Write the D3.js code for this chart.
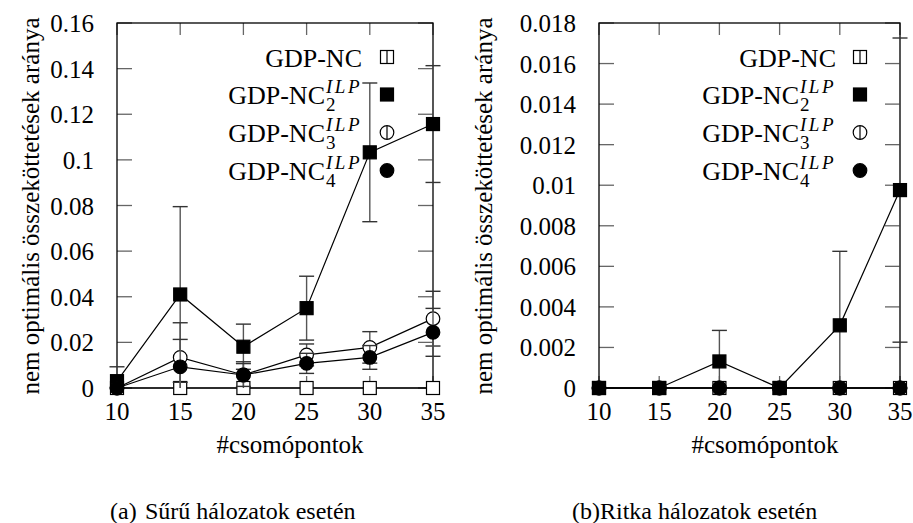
<!DOCTYPE html>
<html>
<head>
<meta charset="utf-8">
<script src="https://cdn.jsdelivr.net/npm/d3@7"></script>
<style>
  html, body { margin: 0; padding: 0; background: #fff; }
  svg { display: block; }
  text { font-family: "Liberation Serif", "Times New Roman", Times, "DejaVu Serif", serif; }
</style>
</head>
<body>
<svg id="chart" width="913" height="523" font-family="Liberation Serif, Times New Roman, serif"></svg>
<script>
// ---------- DATA ----------
const nodes = [10, 15, 20, 25, 30, 35];
const xTickLabels = ["10", "15", "20", "25", "30", "35"];

// (a) dense networks
const denseNC      = [0, 0, 0, 0, 0, 0];
const denseNCErr   = [0, 0, 0, 0, 0, 0];
const denseNC2     = [0.003, 0.041, 0.0181, 0.035, 0.1033, 0.1157];
const denseNC2Err  = [0.0063, 0.0385, 0.0099, 0.014, 0.0304, 0.0256];
const denseNC3     = [0, 0.0134, 0.0057, 0.0145, 0.0178, 0.0304];
const denseNC3Err  = [0, 0.0152, 0.0058, 0.0048, 0.0069, 0.012];
const denseNC4     = [0, 0.0093, 0.0057, 0.0108, 0.0134, 0.0244];
const denseNC4Err  = [0, 0.012, 0.005, 0.0044, 0.0052, 0.0105];
const denseYTicks  = [0, 0.02, 0.04, 0.06, 0.08, 0.1, 0.12, 0.14, 0.16];
const denseYLabels = ["0", "0.02", "0.04", "0.06", "0.08", "0.1", "0.12", "0.14", "0.16"];

// (b) sparse networks
const sparseNC      = [0, 0, 0, 0, 0, 0];
const sparseNCErr   = [0, 0, 0, 0, 0, 0];
const sparseNC2     = [0, 0, 0.00131, 0, 0.00309, 0.00976];
const sparseNC2Err  = [0, 0, 0.00153, 0, 0.00365, 0.0075];
const sparseNC3     = [0, 0, 0, 0, 0, 0];
const sparseNC3Err  = [0, 0, 0, 0, 0, 0];
const sparseNC4     = [0, 0, 0, 0, 0, 0];
const sparseNC4Err  = [0, 0, 0, 0, 0, 0];
const sparseYTicks  = [0, 0.002, 0.004, 0.006, 0.008, 0.01, 0.012, 0.014, 0.016, 0.018];
const sparseYLabels = ["0", "0.002", "0.004", "0.006", "0.008", "0.01", "0.012", "0.014", "0.016", "0.018"];

const seriesNames = [
  {main: "GDP-NC", sub: null, sup: null, shape: "openSquare"},
  {main: "GDP-NC", sub: "2", sup: "ILP", shape: "filledSquare"},
  {main: "GDP-NC", sub: "3", sup: "ILP", shape: "openCircle"},
  {main: "GDP-NC", sub: "4", sup: "ILP", shape: "filledCircle"}
];

const yTitle = "nem optimális összeköttetések aránya";
const xTitle = "#csomópontok";
const captions = [["(a)", "Sűrű hálozatok esetén"], ["(b)", "Ritka hálozatok esetén"]];

// ---------- DRAW ----------
const FONT = "Liberation Serif, Times New Roman, serif";
const svg = d3.select("#chart");

function measure(str, size, italic, spacing) {
  const t = svg.append("text").attr("font-family", FONT).attr("font-size", size)
    .attr("font-style", italic ? "italic" : "normal").attr("letter-spacing", spacing || 0).text(str);
  const w = t.node().getComputedTextLength();
  t.remove();
  return w;
}

function drawSymbol(g, shape, cx, cy) {
  const s = 13, r = 6.8;
  if (shape === "openSquare" || shape === "filledSquare") {
    g.append("rect").attr("x", cx - s/2).attr("y", cy - s/2).attr("width", s).attr("height", s)
      .attr("fill", shape === "filledSquare" ? "#000" : "#fff").attr("stroke", "#000").attr("stroke-width", 1.2);
  } else {
    g.append("circle").attr("cx", cx).attr("cy", cy).attr("r", r)
      .attr("fill", shape === "filledCircle" ? "#000" : "#fff").attr("stroke", "#000").attr("stroke-width", 1.2);
  }
}

function txt(g, x, y, size, str, anchor) {
  return g.append("text").attr("x", x).attr("y", y).attr("font-family", FONT).attr("font-size", size)
    .attr("text-anchor", anchor || "start").text(str);
}

function panel(cfg) {
  const g = svg.append("g");
  const x = d3.scaleLinear().domain([10, 35]).range([cfg.x0, cfg.x1]);
  const y = d3.scaleLinear().domain([0, cfg.yMax]).range([388, 23]);
  const tickColor = "#666";

  cfg.yTicks.forEach((v, i) => {
    g.append("line").attr("x1", x(10)).attr("x2", x(10) + 15).attr("y1", y(v)).attr("y2", y(v))
      .attr("stroke", tickColor).attr("stroke-width", 1.3);
    g.append("line").attr("x1", x(35)).attr("x2", x(35) - 15).attr("y1", y(v)).attr("y2", y(v))
      .attr("stroke", tickColor).attr("stroke-width", 1.3);
    txt(g, cfg.x0 - 23, y(v) + 9, 25, cfg.yLabels[i], "end");
  });
  nodes.forEach((v, i) => {
    g.append("line").attr("x1", x(v)).attr("x2", x(v)).attr("y1", y(0)).attr("y2", y(0) - 12)
      .attr("stroke", tickColor).attr("stroke-width", 1.3);
    g.append("line").attr("x1", x(v)).attr("x2", x(v)).attr("y1", y(cfg.yMax)).attr("y2", y(cfg.yMax) + 12)
      .attr("stroke", tickColor).attr("stroke-width", 1.3);
    txt(g, x(v), 420, 25, xTickLabels[i], "middle");
  });
  g.append("rect").attr("x", x(10)).attr("y", y(cfg.yMax)).attr("width", x(35) - x(10)).attr("height", y(0) - y(cfg.yMax))
    .attr("fill", "none").attr("stroke", "#000").attr("stroke-width", 1.3);

  g.append("text").attr("transform", `translate(${cfg.titleX},206) rotate(-90)`).attr("text-anchor", "middle")
    .attr("font-family", FONT).attr("font-size", 25).text(yTitle);
  txt(g, cfg.xTitleX, 453, 25, xTitle, "middle");
  txt(g, cfg.capX, 519, 24, cfg.caption[0]);
  txt(g, cfg.capX2, 519, 24, cfg.caption[1]);

  // legend
  const rows = [57, 94.5, 132.5, 170.5];
  seriesNames.forEach((s, i) => {
    const cy = rows[i], base = cy + 9.5;
    const lg = g.append("g");
    if (!s.sup) {
      txt(lg, cfg.legX, base, 26, s.main, "end");
    } else {
      const wSup = measure(s.sup, 19, true, 2.5);
      const wMain = measure(s.main, 26, false, 0);
      const sx = cfg.legX - wSup;
      const t = lg.append("text").attr("font-family", FONT);
      t.append("tspan").attr("x", sx - 1 - wMain).attr("y", base).attr("font-size", 26).text(s.main);
      t.append("tspan").attr("x", sx).attr("y", base + 6.5).attr("font-size", 19).text(s.sub);
      t.append("tspan").attr("x", sx).attr("y", base - 11).attr("font-size", 19)
        .attr("font-style", "italic").attr("letter-spacing", 2.5).text(s.sup);
    }
    drawSymbol(lg, s.shape, cfg.symX, cy);
    lg.append("line").attr("x1", cfg.symX).attr("x2", cfg.symX).attr("y1", cy - 6.5).attr("y2", cy + 6.5)
      .attr("stroke", s.shape.startsWith("filled") ? "#000" : "#000").attr("stroke-width", 1.2);
  });

  const line = d3.line().x((d, i) => x(nodes[i])).y(d => y(d));
  cfg.series.forEach((ser, si) => {
    const sg = g.append("g");
    ser.v.forEach((v, i) => {
      const e = ser.e[i];
      if (!e) return;
      const hi = v + e, lo = Math.max(0, v - e);
      const cx = x(nodes[i]);
      sg.append("line").attr("x1", cx).attr("x2", cx).attr("y1", y(lo)).attr("y2", y(hi))
        .attr("stroke", "#555").attr("stroke-width", 1.4);
      sg.append("line").attr("x1", cx - 7.5).attr("x2", cx + 7.5).attr("y1", y(hi)).attr("y2", y(hi))
        .attr("stroke", "#333").attr("stroke-width", 1.4);
      if (v - e > 0) {
        sg.append("line").attr("x1", cx - 7.5).attr("x2", cx + 7.5).attr("y1", y(lo)).attr("y2", y(lo))
          .attr("stroke", "#333").attr("stroke-width", 1.4);
      }
    });
    sg.append("path").attr("d", line(ser.v)).attr("fill", "none").attr("stroke", "#000").attr("stroke-width", 1.2);
    ser.v.forEach((v, i) => drawSymbol(sg, seriesNames[si].shape, x(nodes[i]), y(v)));
  });
}

panel({
  x0: 117, x1: 433, yMax: 0.16, yTicks: denseYTicks, yLabels: denseYLabels,
  titleX: 39, xTitleX: 290, capX: 110, capX2: 145, caption: captions[0],
  legX: 362, symX: 387,
  series: [
    {v: denseNC, e: denseNCErr}, {v: denseNC2, e: denseNC2Err},
    {v: denseNC3, e: denseNC3Err}, {v: denseNC4, e: denseNC4Err}
  ]
});
panel({
  x0: 599, x1: 900, yMax: 0.018, yTicks: sparseYTicks, yLabels: sparseYLabels,
  titleX: 492, xTitleX: 765, capX: 572, capX2: 600, caption: captions[1],
  legX: 836, symX: 860,
  series: [
    {v: sparseNC, e: sparseNCErr}, {v: sparseNC2, e: sparseNC2Err},
    {v: sparseNC3, e: sparseNC3Err}, {v: sparseNC4, e: sparseNC4Err}
  ]
});
</script>
</body>
</html>
